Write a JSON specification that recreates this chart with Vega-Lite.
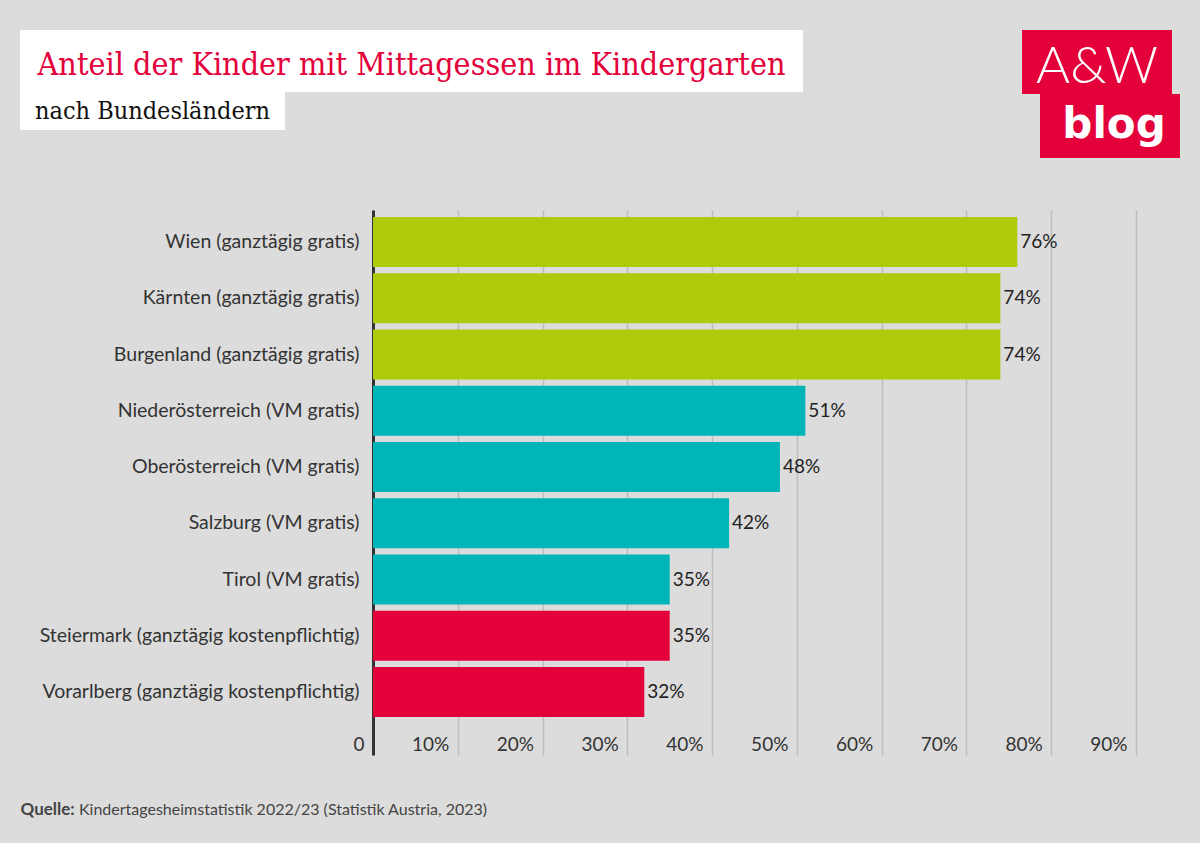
{
  "$schema": "https://vega.github.io/schema/vega-lite/v6.json",
  "background": "#dcdcdc",
  "padding": {"left": 20, "top": 30, "right": 20, "bottom": 23},
  "spacing": 52,
  "config": {"view": {"stroke": null}, "font": "Lato"},
  "vconcat": [
    {
      "spacing": 219,
      "hconcat": [
        {
          "spacing": 0,
          "vconcat": [
            {
              "width": 783,
              "height": 62,
              "view": {"fill": "#ffffff", "stroke": null},
              "data": {"values": [{}]},
              "mark": {"type": "text", "text": "Anteil der Kinder mit Mittagessen im Kindergarten", "font": "DejaVu Serif Condensed", "fontSize": 32, "color": "#e4003a", "baseline": "alphabetic", "dy": 14},
              "encoding": {}
            },
            {
              "width": 265,
              "height": 38,
              "view": {"fill": "#ffffff", "stroke": null},
              "data": {"values": [{}]},
              "mark": {"type": "text", "text": "nach Bundesländern", "font": "DejaVu Serif Condensed", "fontSize": 25, "color": "#111111", "baseline": "alphabetic", "dy": 8},
              "encoding": {}
            }
          ]
        },
        {
          "spacing": 0,
          "vconcat": [
            {
              "width": 150,
              "height": 64,
              "view": {"fill": "#e4003a", "stroke": null},
              "data": {"values": [{}]},
              "mark": {"type": "text", "text": "A&W", "font": "Lato", "fontWeight": 300, "fontSize": 52, "color": "#ffffff", "baseline": "alphabetic", "dy": 21},
              "encoding": {}
            },
            {
              "bounds": "flush",
              "spacing": 17,
              "hconcat": [
                {
                  "width": 1,
                  "height": 64,
                  "data": {"values": [{}]},
                  "mark": {"type": "text", "text": ""},
                  "encoding": {}
                },
                {
                  "width": 140,
                  "height": 64,
                  "view": {"fill": "#e4003a", "stroke": null},
                  "data": {"values": [{}]},
                  "mark": {"type": "text", "text": "blog", "font": "DejaVu Sans", "fontWeight": "bold", "fontSize": 42, "color": "#ffffff", "baseline": "alphabetic", "dx": 4, "dy": 12},
                  "encoding": {}
                }
              ]
            }
          ]
        }
      ]
    },
    {
      "spacing": 45,
      "vconcat": [
        {
          "bounds": "flush",
          "spacing": 352,
          "hconcat": [
            {
              "width": 1,
              "height": 545,
              "data": {"values": [{}]},
              "mark": {"type": "text", "text": ""},
              "encoding": {}
            },
            {
              "width": 763,
              "height": 545,
              "data": {
                "values": [
                  {"region": "Wien (ganztägig gratis)", "value": 76, "group": "ganztägig gratis"},
                  {"region": "Kärnten (ganztägig gratis)", "value": 74, "group": "ganztägig gratis"},
                  {"region": "Burgenland (ganztägig gratis)", "value": 74, "group": "ganztägig gratis"},
                  {"region": "Niederösterreich (VM gratis)", "value": 51, "group": "VM gratis"},
                  {"region": "Oberösterreich (VM gratis)", "value": 48, "group": "VM gratis"},
                  {"region": "Salzburg (VM gratis)", "value": 42, "group": "VM gratis"},
                  {"region": "Tirol (VM gratis)", "value": 35, "group": "VM gratis"},
                  {"region": "Steiermark (ganztägig kostenpflichtig)", "value": 35, "group": "ganztägig kostenpflichtig"},
                  {"region": "Vorarlberg (ganztägig kostenpflichtig)", "value": 32, "group": "ganztägig kostenpflichtig"}
                ]
              },
              "encoding": {
                "y": {
                  "field": "region",
                  "type": "nominal",
                  "sort": null,
                  "scale": {"paddingInner": 0.111, "paddingOuter": 0.4, "align": 0.156},
                  "axis": {"title": null, "ticks": false, "domain": true, "domainColor": "#333333", "domainWidth": 3, "labelPadding": 14, "labelFontSize": 19.5, "labelFont": "Lato", "labelColor": "#333333", "labelLimit": 400, "grid": false}
                },
                "x": {
                  "field": "value",
                  "type": "quantitative",
                  "scale": {"domain": [0, 90], "nice": false, "zero": true},
                  "axis": {"orient": "bottom", "title": null, "values": [0, 10, 20, 30, 40, 50, 60, 70, 80, 90], "domain": false, "ticks": false, "tickSize": 0, "grid": true, "gridColor": "#bdbdbd", "gridWidth": 1.5, "labelExpr": "datum.value == 0 ? '0' : datum.value + '%'", "labelAlign": "right", "labelOffset": -9, "labelFlush": false, "labelOverlap": false, "labelBaseline": "alphabetic", "labelPadding": -5, "labelFontSize": 19, "labelFont": "Lato", "labelColor": "#333333"}
                }
              },
              "layer": [
                {
                  "mark": {"type": "bar"},
                  "encoding": {
                    "color": {"field": "group", "type": "nominal", "scale": {"domain": ["ganztägig gratis", "VM gratis", "ganztägig kostenpflichtig"], "range": ["#afca0b", "#00b5b8", "#e4003a"]}, "legend": null}
                  }
                },
                {
                  "transform": [{"calculate": "datum.value + '%'", "as": "label"}],
                  "mark": {"type": "text", "align": "left", "dx": 3, "baseline": "middle", "fontSize": 19, "font": "Lato", "color": "#222222"},
                  "encoding": {"text": {"field": "label"}}
                }
              ]
            }
          ]
        },
        {
          "width": 1,
          "height": 20,
          "data": {"values": [{}]},
          "layer": [
            {
              "mark": {"type": "text", "text": "Quelle:", "align": "left", "baseline": "middle", "fontWeight": "bold", "fontSize": 17, "font": "Lato", "color": "#444444"},
              "encoding": {}
            },
            {
              "mark": {"type": "text", "text": "Kindertagesheimstatistik 2022/23 (Statistik Austria, 2023)", "align": "left", "baseline": "middle", "dx": 58.5, "fontSize": 16, "font": "Lato", "color": "#444444"},
              "encoding": {}
            }
          ]
        }
      ]
    }
  ]
}
